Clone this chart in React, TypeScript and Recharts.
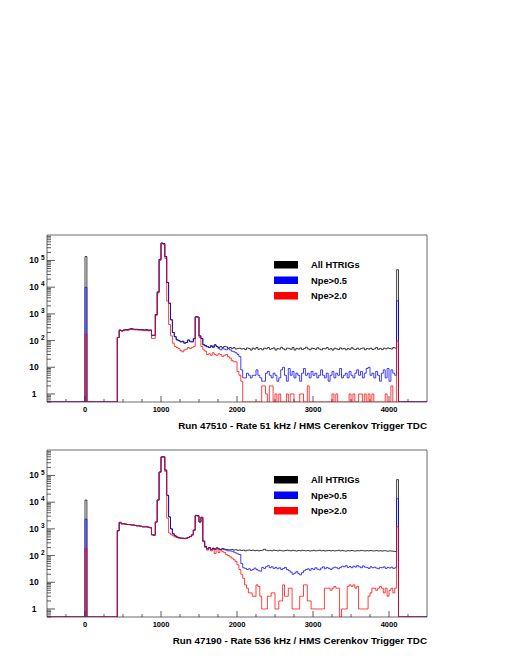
import { LineChart, Line, XAxis, YAxis, ReferenceArea } from "recharts";

const FONT = '"Liberation Sans", Arial, Helvetica, sans-serif';

// TDC histogram binning
const BIN_WIDTH = 25;
const X_MIN = -500;
const X_MAX = 4500;
const BODY_START = 425;
const SPIKE_LOW = 0;
const SPIKE_HIGH = 4100;
const Y_MIN = 0.5;
const Y_MAX = 9e5;

const SERIES_KEYS = ["all", "npe05", "npe20"];
const SERIES_NAMES = ["All HTRIGs", "Npe>0.5", "Npe>2.0"];
const SERIES_COLORS = ["#000000", "#0000ff", "#ff0000"];

const X_TICKS = [-250, 0, 250, 500, 750, 1000, 1250, 1500, 1750, 2000, 2250, 2500, 2750, 3000, 3250, 3500, 3750, 4000, 4250];
const X_LABELS = [0, 1000, 2000, 3000, 4000];
const Y_DECADES = [0.1, 1, 10, 100, 1000, 10000, 100000];
const Y_STEPS = [1, 2, 3, 4, 5, 6, 7, 8, 9];
const Y_LABELS = [1, 10, 100, 1000, 10000, 100000];
const Y_TICKS = Y_DECADES.flatMap((d) => Y_STEPS.map((m) => +(d * m).toPrecision(3)))
    .filter((v) => v >= Y_MIN && v < Y_MAX);

// Run 47510, bins of 25 from 425 to 4075
const RUN1_ALL = [
    130, 250, 235,
    250, 260, 255, 270,
    280, 270, 265, 265,
    260, 260, 255, 250,
    260, 245, 250, 160,
    160, 950, 6700, 110000,
    450000, 430000, 140000, 15000,
    2500, 600, 200, 140,
    110, 100, 90, 95,
    80, 85, 105, 95,
    90, 120, 780, 760,
    150, 120, 70, 65,
    60, 55, 65, 58,
    70, 60, 55, 60,
    55, 60, 58, 52,
    55, 50, 55, 48,
    50, 52, 48, 50,
    46, 53, 50, 44,
    52, 48, 55, 47,
    50, 45, 52, 49,
    55, 47, 50, 53,
    44, 50, 48, 56,
    49, 45, 52, 50,
    47, 55, 44, 51,
    48, 53, 46, 50,
    56, 49, 45, 52,
    50, 47, 54, 48,
    45, 51, 49, 55,
    47, 50, 44, 52,
    49, 46, 53, 48,
    51, 45, 50, 47,
    54, 48, 46, 52,
    47, 50, 53, 45,
    50, 48, 52, 46,
    49, 55, 47, 51,
    46, 52, 49, 53,
    50, 48, 55, 52,
];
const RUN1_NPE05 = [
    130, 245, 230,
    245, 255, 250, 265,
    275, 265, 260, 260,
    255, 255, 250, 245,
    255, 240, 245, 155,
    155, 940, 6600, 110000,
    450000, 430000, 140000, 15000,
    2500, 600, 200, 140,
    105, 100, 90, 90,
    80, 85, 105, 90,
    90, 115, 780, 760,
    150, 120, 70, 62,
    58, 55, 60, 55,
    68, 60, 50, 45,
    50, 48, 45, 50,
    45, 40, 38, 35,
    30, 25, 8, 4,
    4, 6, 5, 4,
    5, 5, 8, 5,
    4, 3, 3, 6,
    7, 5, 4, 6,
    5, 3, 4, 8,
    10, 5, 3, 9,
    5, 7, 4, 6,
    5, 3, 6, 9,
    5, 6, 4, 7,
    5, 6, 4, 5,
    8, 5, 4, 6,
    3, 5, 7, 4,
    6, 5, 9, 4,
    5, 6, 4, 7,
    5, 4, 6, 8,
    5, 7, 4, 6,
    9, 10, 5, 6,
    4, 7, 5, 3,
    6, 8, 4, 9,
    3, 8, 6, 5,
];
const RUN1_NPE20 = [
    130, 240, 225,
    235, 245, 240, 255,
    260, 255, 250, 250,
    245, 245, 240, 235,
    240, 230, 235, 120,
    120, 850, 6000, 100000,
    430000, 400000, 120000, 3000,
    400, 150, 80, 60,
    55, 50, 42, 38,
    45, 48, 55, 50,
    55, 60, 750, 740,
    130, 60, 45, 40,
    30, 32, 28, 35,
    30, 28, 32, 30,
    25, 28, 30, 25,
    22, 18, 16, 16,
    7, 5, 3, 0,
    0, 0, 0, 0,
    0, 0, 0, 0,
    0, 2, 2, 1,
    0, 2, 2, 0,
    1, 0, 1, 0,
    0, 0, 1, 0,
    1, 1, 0, 0,
    0, 1, 1, 0,
    0, 2, 0, 0,
    0, 0, 0, 0,
    0, 0, 0, 0,
    0, 0, 1, 0,
    1, 0, 0, 0,
    0, 0, 0, 1,
    0, 1, 0, 0,
    1, 1, 0, 1,
    0, 1, 0, 1,
    0, 0, 0, 0,
    0, 0, 1, 0,
    0, 2, 0, 0,
];
const RUN1_SPIKE_LOW = [140000, 9800, 175];
const RUN1_SPIKE_HIGH = [45000, 3100, 95];

// Run 47190, bins of 25 from 425 to 4075
const RUN2_ALL = [
    850, 1750, 1550,
    1550, 1500, 1450, 1450,
    1400, 1400, 1350, 1300,
    1300, 1250, 1200, 1200,
    1200, 1150, 1100, 600,
    580, 1800, 12000, 135000,
    500000, 500000, 160000, 18000,
    2800, 1000, 650, 550,
    500, 470, 450, 450,
    440, 450, 480, 520,
    600, 900, 3200, 3100,
    1800, 2700, 350, 220,
    180, 200, 170, 190,
    175, 195, 180, 170,
    185, 175, 170, 165,
    165, 170, 160, 165,
    158, 162, 155, 160,
    150, 158, 162, 155,
    160, 152, 157, 150,
    155, 160, 172, 158,
    152, 156, 150, 160,
    155, 150, 158, 152,
    148, 155, 160, 153,
    150, 157, 152, 148,
    155, 150, 158, 153,
    150, 155, 148, 152,
    157, 150, 153, 158,
    150, 155, 148, 152,
    156, 150, 154, 149,
    152, 158, 150, 155,
    150, 147, 153, 150,
    155, 150, 148, 153,
    150, 156, 152, 148,
    153, 150, 155, 149,
    150, 154, 148, 152,
    147, 152, 150, 146,
    150, 148, 145, 142,
];
const RUN2_NPE05 = [
    850, 1750, 1550,
    1550, 1500, 1450, 1450,
    1400, 1400, 1350, 1300,
    1300, 1250, 1200, 1200,
    1200, 1150, 1100, 600,
    580, 1800, 12000, 135000,
    500000, 500000, 160000, 18000,
    2800, 1000, 650, 550,
    500, 470, 450, 450,
    440, 450, 480, 520,
    600, 900, 3200, 3100,
    1800, 2700, 350, 220,
    175, 195, 165, 185,
    170, 190, 175, 165,
    175, 165, 160, 150,
    150, 145, 135, 125,
    115, 110, 50, 35,
    33, 30, 32, 28,
    30, 34, 30, 27,
    26, 36, 33, 38,
    42, 35, 38, 33,
    36, 32, 35, 30,
    33, 36, 30, 27,
    24, 20, 22, 25,
    21, 19, 23, 27,
    30, 32, 28, 33,
    30, 35, 31, 29,
    34, 38, 32, 36,
    33, 30, 34, 37,
    35, 32, 36, 40,
    38, 42, 36, 39,
    35, 40, 37, 42,
    38, 35, 41, 37,
    36, 33, 38, 35,
    37, 34, 32, 36,
    35, 38, 33, 36,
    34, 37, 33, 35,
];
const RUN2_NPE20 = [
    850, 1750, 1550,
    1550, 1500, 1450, 1450,
    1400, 1400, 1350, 1300,
    1300, 1250, 1200, 1200,
    1200, 1150, 1100, 600,
    580, 1800, 12000, 130000,
    480000, 480000, 140000, 2500,
    700, 600, 550, 500,
    470, 450, 440, 430,
    430, 440, 470, 510,
    580, 880, 3100, 3000,
    1800, 2700, 330, 200,
    160, 190, 150, 170,
    120, 180, 130, 165,
    140, 130, 110, 100,
    90, 80, 70, 60,
    45, 30, 20, 14,
    8, 6, 4, 4,
    3, 3, 8, 7,
    3, 1, 1, 1,
    3, 3, 4, 4,
    1, 1, 2, 2,
    8, 3, 3, 6,
    6, 1, 1, 1,
    1, 3, 3, 8,
    8, 2, 2, 1,
    1, 1, 1, 1,
    1, 1, 6, 6,
    6, 5, 6, 7,
    6, 6, 0, 1,
    1, 1, 7, 8,
    7, 8, 6, 7,
    1, 1, 1, 1,
    1, 3, 4, 6,
    6, 5, 6, 7,
    6, 4, 6, 3,
    5, 6, 4, 6,
];
const RUN2_SPIKE_LOW = [12000, 2300, 185];
const RUN2_SPIKE_HIGH = [70000, 13500, 1200];

function buildRows(body: number[][], spikeLow: number[], spikeHigh: number[]) {
    const rows: Record<string, number>[] = [];
    for (let x = X_MIN; x <= X_MAX; x += BIN_WIDTH) {
        const row: Record<string, number> = { x };
        SERIES_KEYS.forEach((key, s) => {
            let v = 0;
            if (x === SPIKE_LOW) v = spikeLow[s];
            else if (x === SPIKE_HIGH) v = spikeHigh[s];
            else if (x >= BODY_START && x < SPIKE_HIGH) v = body[s][(x - BODY_START) / BIN_WIDTH] ?? 0;
            // empty bins sit on the bottom of the log axis
            row[key] = v > 0 ? v : Y_MIN;
        });
        rows.push(row);
    }
    return rows;
}

function XTick(props: any) {
    const { x, y, payload } = props;
    const major = X_LABELS.includes(payload.value);
    return (
        <g>
            <line x1={x} x2={x} y1={y} y2={y - (major ? 6 : 3)} stroke="#333" strokeWidth={0.8} />
            {major && (
                <text x={x} y={y + 10} textAnchor="middle" fontFamily={FONT} fontWeight="bold" fontSize={7.5} fill="#000">
                    {payload.value}
                </text>
            )}
        </g>
    );
}

function YTick(props: any) {
    const { x, y, payload } = props;
    const idx = Y_LABELS.indexOf(payload.value);
    const major = idx >= 0;
    return (
        <g>
            <line x1={x} x2={x + (major ? 8 : 4)} y1={y} y2={y} stroke="#333" strokeWidth={0.8} />
            {major && (
                <text x={x - 13} y={y} dy="0.35em" textAnchor="middle" fontFamily={FONT} fontWeight="bold" fontSize={8.5} fill="#000">
                    {idx < 2 ? payload.value : "10"}
                </text>
            )}
            {major && idx >= 2 && (
                <text x={x - 6} y={y - 3} dy="0.35em" fontFamily={FONT} fontWeight="bold" fontSize={6.5} fill="#000">
                    {idx}
                </text>
            )}
        </g>
    );
}

interface PanelProps {
    top: number;
    title: string;
    body: number[][];
    spikeLow: number[];
    spikeHigh: number[];
}

function Panel({ top, title, body, spikeLow, spikeHigh }: PanelProps) {
    const data = buildRows(body, spikeLow, spikeHigh);
    const legendTop = top + 36;
    return (
        <>
            <div style={{ position: "absolute", left: 0, top, width: 512, height: 207 }}>
                <LineChart width={512} height={207} data={data} margin={{ top: 10, right: 85, bottom: 0, left: 0 }}>
                    <XAxis dataKey="x" type="number" domain={[X_MIN, X_MAX]} ticks={X_TICKS} interval={0}
                        tickSize={0} tickMargin={0} tickLine={false} axisLine={false} height={30}
                        tick={(p: any) => <XTick {...p} />} allowDataOverflow />
                    <YAxis type="number" scale="log" domain={[Y_MIN, Y_MAX]} ticks={Y_TICKS} interval={0}
                        width={47} tickSize={0} tickMargin={0} tickLine={false} axisLine={false}
                        tick={(p: any) => <YTick {...p} />} allowDataOverflow />
                    {SERIES_KEYS.map((key, i) => (
                        <Line key={key} dataKey={key} type="stepAfter" stroke={SERIES_COLORS[i]} strokeWidth={0.75}
                            dot={false} activeDot={false} isAnimationActive={false} />
                    ))}
                    <ReferenceArea x1={X_MIN} x2={X_MAX} y1={Y_MIN} y2={Y_MAX} fill="none" fillOpacity={0}
                        stroke="#444" strokeWidth={0.8} />
                </LineChart>
            </div>
            <svg width={512} height={663} style={{ position: "absolute", left: 0, top: 0, pointerEvents: "none" }}>
                {SERIES_NAMES.map((name, i) => (
                    <g key={name}>
                        <rect x={274} y={legendTop + i * 15.5} width={24} height={7.5} fill={SERIES_COLORS[i]} />
                        <text x={311} y={legendTop + i * 15.5 + 7} fontFamily={FONT} fontWeight="bold" fontSize={9.3} fill="#000">
                            {name}
                        </text>
                    </g>
                ))}
                <text x={427} y={top + 204} textAnchor="end" fontFamily={FONT} fontWeight="bold" fontSize={9.8} fill="#000">
                    {title}
                </text>
            </svg>
        </>
    );
}

export default function App() {
    return (
        <div style={{ position: "absolute", left: 0, top: 0, width: 512, height: 663, background: "#fff" }}>
            <Panel top={225} title="Run 47510 - Rate 51 kHz / HMS Cerenkov Trigger TDC"
                body={[RUN1_ALL, RUN1_NPE05, RUN1_NPE20]} spikeLow={RUN1_SPIKE_LOW} spikeHigh={RUN1_SPIKE_HIGH} />
            <Panel top={440} title="Run 47190 - Rate 536 kHz / HMS Cerenkov Trigger TDC"
                body={[RUN2_ALL, RUN2_NPE05, RUN2_NPE20]} spikeLow={RUN2_SPIKE_LOW} spikeHigh={RUN2_SPIKE_HIGH} />
        </div>
    );
}
